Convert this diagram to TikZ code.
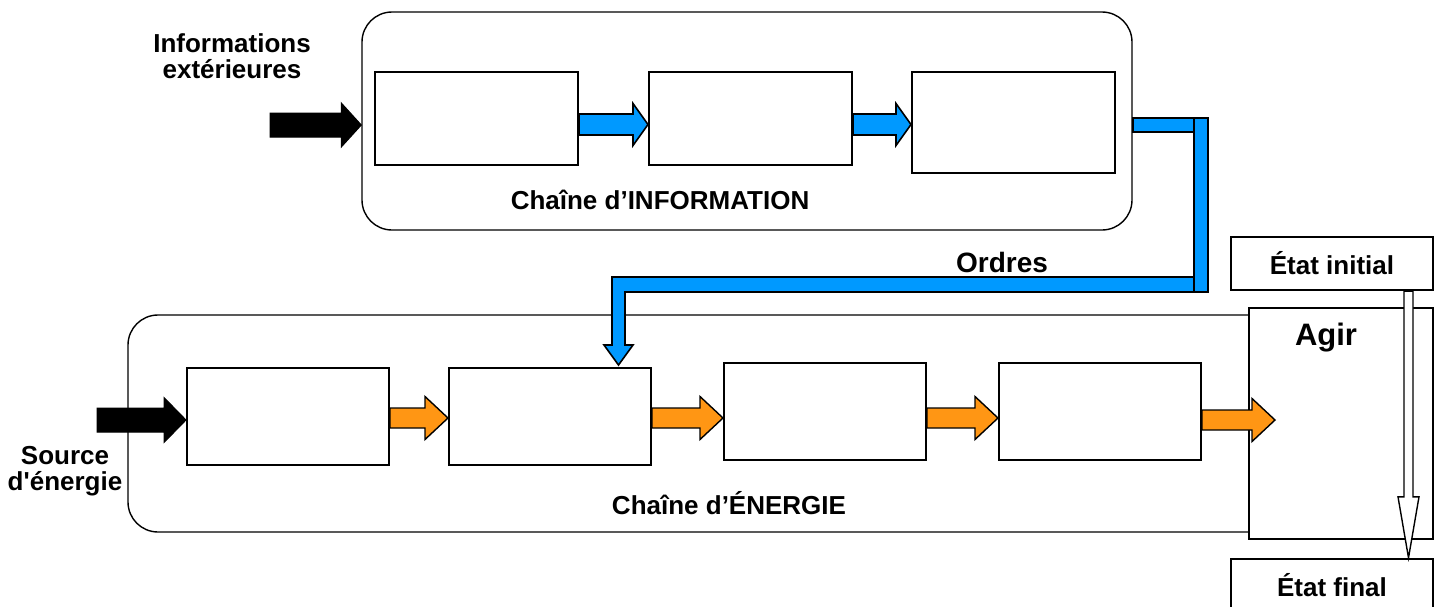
\documentclass[tikz,border=0pt]{standalone}
\usepackage{fontspec}
\setmainfont{Liberation Sans}[Ligatures=TeXOff]
\usetikzlibrary{calc}
\definecolor{infoblue}{RGB}{0,153,255}
\definecolor{nrjorange}{RGB}{255,150,20}
% horizontal block arrow: #1 style, #2 start, #3 end, #4 shaft half, #5 head half, #6 head length
\newcommand\harrow[6]{%
  \path[#1] let \p1=#2, \p2=#3 in
    (\x1,\y1+#4) -- (\x2-#6,\y1+#4) -- (\x2-#6,\y1+#5) -- (\x2,\y1)
    -- (\x2-#6,\y1-#5) -- (\x2-#6,\y1-#4) -- (\x1,\y1-#4) -- cycle;}
% vertical (downward) block arrow
\newcommand\varrow[6]{%
  \path[#1] let \p1=#2, \p2=#3 in
    (\x1-#4,\y1) -- (\x1-#4,\y2+#6) -- (\x1-#5,\y2+#6) -- (\x1,\y2)
    -- (\x1+#5,\y2+#6) -- (\x1+#4,\y2+#6) -- (\x1+#4,\y1) -- cycle;}
\newcommand\lbl{\fontsize{26}{26}\selectfont\bfseries}
\begin{document}
\begin{tikzpicture}[x=1pt,y=-1pt,
  chain/.style={draw, line width=1.4pt, rounded corners=30pt, inner sep=0pt},
  blockbox/.style={draw, line width=2pt, fill=white, inner sep=0pt, minimum width=203pt},
  statebox/.style={draw, line width=2.4pt, fill=white, inner sep=0pt, minimum width=202pt, minimum height=53pt, font=\lbl},
  txt/.style={inner sep=0pt, align=center, font=\lbl},
  blackarrow/.style={fill=black, draw=black, line width=1pt},
  bluearrow/.style={fill=infoblue, draw=black, line width=1.6pt},
  orangearrow/.style={fill=nrjorange, draw=black, line width=1.4pt},
  hollowarrow/.style={fill=white, draw=black, line width=1.4pt}]
\useasboundingbox (0,0) rectangle (1441,606);

% information chain
\node[chain, minimum width=770pt, minimum height=218pt] (infochain) at (747,121) {};
\node[blockbox, minimum height=93pt] (i1) at (476.5,118.5) {};
\node[blockbox, minimum height=93pt] (i2) at (750.5,118.5) {};
\node[blockbox, minimum height=101pt] (i3) at (1013.5,122.5) {};
\node[txt] (infolabel) at (660,200) {Chaîne d’INFORMATION};
\node[txt] (extinfo) at (232,56) {Informations\\extérieures};
\coordinate (extstart) at (270,125);
\harrow{blackarrow}{(extstart)}{(infochain.west |- extstart)}{12pt}{22pt}{20pt}
\harrow{bluearrow}{(i1.east |- 0,124.5)}{(i2.west |- 0,124.5)}{10.5pt}{21pt}{15pt}
\harrow{bluearrow}{(i2.east |- 0,124.5)}{(i3.west |- 0,124.5)}{10.5pt}{21pt}{15pt}

% energy chain
\node[chain, minimum width=1152pt, minimum height=217pt] (nrjchain) at (704,423.5) {};
\node[blockbox, minimum width=202pt, minimum height=97pt] (e1) at (288,416.5) {};
\node[blockbox, minimum width=202pt, minimum height=97pt] (e2) at (550,416.5) {};
\node[blockbox, minimum width=202pt, minimum height=97pt] (e3) at (825,411.5) {};
\node[blockbox, minimum width=202pt, minimum height=97pt] (e4) at (1100,411.5) {};
\node[txt] (nrjlabel) at (729,503) {Chaîne d’ÉNERGIE};
\node[txt] (source) at (65,471) {Source\\d'énergie};
\coordinate (srcstart) at (97,420);
\harrow{blackarrow}{(srcstart)}{(e1.west |- srcstart)}{12pt}{22.5pt}{22pt}
\harrow{orangearrow}{(e1.east |- 0,418)}{(e2.west |- 0,418)}{10pt}{21.5pt}{23pt}
\harrow{orangearrow}{(e2.east |- 0,418)}{(e3.west |- 0,418)}{10pt}{21.5pt}{23pt}
\harrow{orangearrow}{(e3.east |- 0,418)}{(e4.west |- 0,418)}{10pt}{21.5pt}{23pt}

% orders
\node[txt, font=\fontsize{28}{28}\selectfont\bfseries] (orders) at (1002,262) {Ordres};
\path[bluearrow] (infochain.east |- 0,118) rectangle (1194,132);
\coordinate (ordertip) at (618.5,365);
\path[bluearrow] (1194,277) -- (612,277) -- (612,345) -- (604,345) -- (ordertip)
  -- (633,345) -- (625,345) -- (625,292) -- (1194,292) -- cycle;
\path[bluearrow] (1194,118) rectangle (1208,292);

% acting
\node[draw, line width=2.4pt, fill=white, inner sep=0pt, minimum width=184pt, minimum height=231pt] (agir) at (1341,423.5) {};
\node[txt, font=\fontsize{31}{31}\selectfont\bfseries] (agirlabel) at (1326,338) {Agir};
\coordinate (agirtip) at (1275,420);
\harrow{orangearrow}{(e4.east |- agirtip)}{(agirtip)}{10pt}{21.5pt}{23pt}
\node[statebox] (initial) at (1332,263.5) {État initial};
\node[statebox] (final) at (1332,585.5) {État final};
\varrow{hollowarrow}{(initial.south -| 1408.5,0)}{(final.north -| 1408.5,0)}{4.5pt}{10.5pt}{61pt}
\end{tikzpicture}
\end{document}
